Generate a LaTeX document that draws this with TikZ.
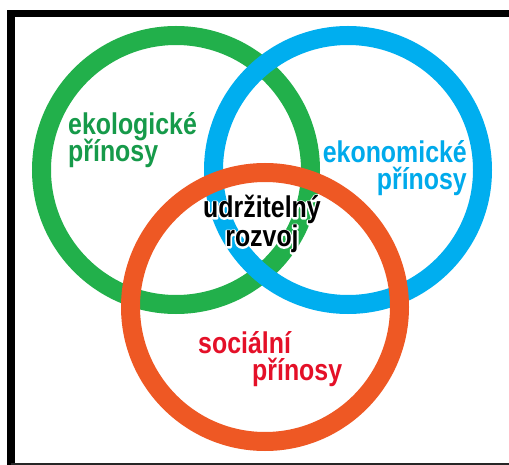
\documentclass[tikz,border=0pt]{standalone}
\usepackage{fontspec}
\newfontfamily\condfont[FakeStretch=0.83]{Liberation Sans}
\definecolor{ringgreen}{RGB}{34,176,75}
\definecolor{ringblue}{RGB}{0,174,239}
\definecolor{ringorange}{RGB}{238,88,36}
\definecolor{txtgreen}{RGB}{22,154,74}
\definecolor{txtblue}{RGB}{0,170,235}
\definecolor{txtred}{RGB}{228,16,40}
\newcommand\halotext[1]{\rlap{\special{pdf:code q 1 Tr 1 1 1 RG 3.2 w 1 j}#1\special{pdf:code Q}}#1}
\begin{document}
\begin{tikzpicture}[x=1pt,y=-1pt,
  ring/.style={line width=19pt},
  lbl/.style={inner sep=0pt,font=\condfont\bfseries\fontsize{30}{30}\selectfont}]
\useasboundingbox (0,0) rectangle (509,465);
\fill[white] (0,0) rectangle (509,465);
% frame
\draw[line width=7.5pt] (515,13.5) -- (11,13.5) -- (11,470);
\draw[line width=2pt,black!85] (11,463.5) -- (515,463.5);
% rings
\coordinate (cg) at (176,170);
\coordinate (cb) at (348,170);
\coordinate (co) at (265,307);
\draw[ring,ringgreen] (cg) circle[radius=134.5];
\draw[ring,ringblue] (cb) circle[radius=134.5];
\draw[ring,ringorange] (co) circle[radius=134.5];
% labels
\node[lbl,txtgreen,anchor=base west] (eko1) at (68,135) {ekologické};
\node[lbl,txtgreen,anchor=base west] (eko2) at (68,162) {přínosy};
\node[lbl,txtblue,anchor=base east] (ekn1) at (467,163) {ekonomické};
\node[lbl,txtblue,anchor=base east] (ekn2) at (467,190) {přínosy};
\node[lbl,anchor=base] (ud1) at (262,218) {\halotext{udržitelný}};
\node[lbl,anchor=base] (ud2) at (262,247) {\halotext{rozvoj}};
\node[lbl,txtred,anchor=base west] (soc1) at (198,353) {sociální};
\node[lbl,txtred,anchor=base west] (soc2) at (252,380) {přínosy};
\end{tikzpicture}
\end{document}
